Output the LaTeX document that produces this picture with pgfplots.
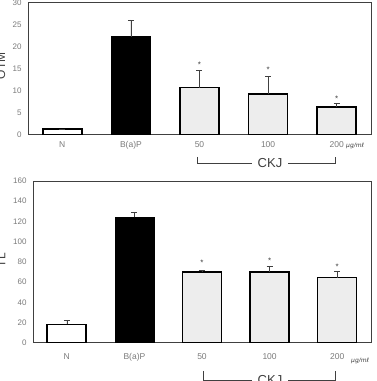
\documentclass[border=0pt]{standalone}
\usepackage{fontspec}
\setmainfont{Liberation Sans}
\newfontfamily\dejavu{DejaVu Sans}
\usepackage{pgfplots}
\pgfplotsset{compat=1.18}

\definecolor{tickgray}{HTML}{7A7A7A}
\definecolor{framegray}{HTML}{404040}
\definecolor{barlight}{HTML}{EDEDED}

\pgfplotsset{
 common/.style={
  scale only axis, anchor=south west,
  xmin=-0.5, xmax=4.5, xtick={0,...,4}, xticklabels={N,B(a)P,50,100,200},
  ymin=0,
  major tick length=0pt,
  axis line style={framegray, line width=0.9pt},
  yticklabel style={font=\fontsize{8}{9}\selectfont, text=tickgray, xshift=-3pt},
  xticklabel style={font=\fontsize{8.5}{9}\selectfont, text=tickgray},
  /pgf/number format/assume math mode=true,
  clip=false,
 },
 barbase/.style={ybar, bar width=39pt, bar shift=0pt,
   error bars/y dir=plus, error bars/y explicit,
   error bars/error bar style={line width=0.5pt, framegray},
   error bars/error mark options={rotate=90, mark size=3pt, line width=0.5pt, framegray}},
 whitebar/.style={barbase, fill=white, draw=black, line width=1.6pt},
 blackbar/.style={barbase, fill=black, draw=black, line width=0.5pt},
 graybar/.style={barbase, fill=barlight, draw=black, line width=1.6pt},
 stars/.style={only marks, mark=none, nodes near coords={*},
   every node near coord/.style={anchor=base, yshift=-4.5pt, font=\fontsize{8}{9}\selectfont, text=framegray, inner sep=0pt}},
}

\begin{document}
\begin{tikzpicture}
\path[use as bounding box] (0pt,0pt) rectangle (377pt,381pt);
\clip (0pt,0pt) rectangle (377pt,381pt);

% ---------- top panel ----------
\begin{axis}[common, at={(28pt,246.3pt)}, width=343pt, height=132pt,
  ymax=30, ytick={0,5,...,30}, xticklabel style={yshift=-3.5pt}]
\addplot[whitebar] coordinates {(0,1.3) +- (0,0)};
\addplot[blackbar] coordinates {(1,22.3) +- (0,3.8)};
\addplot[graybar] coordinates {(2,10.7) +- (0,3.9) (3,9.2) +- (0,4.0) (4,6.3) +- (0,0.8)};
\addplot[stars] coordinates {(2,16.4) (3,15.2) (4,8.6)};
\end{axis}

% ---------- bottom panel ----------
\begin{axis}[common, at={(33pt,38.3pt)}, width=338pt, height=161.7pt,
  ymax=160, ytick={0,20,...,160}, xticklabel style={yshift=-7pt}]
\addplot[whitebar] coordinates {(0,18.1) +- (0,3.7)};
\addplot[blackbar] coordinates {(1,124) +- (0,5)};
\addplot[graybar] coordinates {(2,70) +- (0,1.6) (3,70) +- (0,5.2) (4,64.4) +- (0,6.2)};
\addplot[stars] coordinates {(2,80.8) (3,82.5) (4,76.9)};
\end{axis}

% y labels
\node[rotate=90, anchor=south, inner sep=0pt, font=\fontsize{12}{14}\selectfont, text=framegray] at (5.5pt,315pt) {OTM};
\node[rotate=90, anchor=south, inner sep=0pt, font=\fontsize{12}{14}\selectfont, text=framegray] at (5.5pt,121pt) {TL};

% units
\node[anchor=west, inner sep=0pt, font=\dejavu\fontsize{6}{7}\selectfont\itshape, text=framegray] at (346pt,235pt) {µg/mℓ};
\node[anchor=west, inner sep=0pt, font=\dejavu\fontsize{6}{7}\selectfont\itshape, text=framegray] at (351pt,20pt) {µg/mℓ};

% CKJ brackets
\draw[framegray, line width=0.6pt] (197pt,224pt) -- (197pt,218pt) -- (335pt,218pt) -- (335pt,224pt);
\node[fill=white, inner xsep=6pt, inner ysep=1pt, font=\fontsize{13}{15}\selectfont, text=framegray] at (270pt,218pt) {CKJ};
\draw[framegray, line width=0.6pt] (203pt,10pt) -- (203pt,0.5pt) -- (335pt,0.5pt) -- (335pt,10pt);
\node[fill=white, inner xsep=6pt, inner ysep=1pt, font=\fontsize{13}{15}\selectfont, text=framegray] at (270pt,0.5pt) {CKJ};
\end{tikzpicture}
\end{document}
